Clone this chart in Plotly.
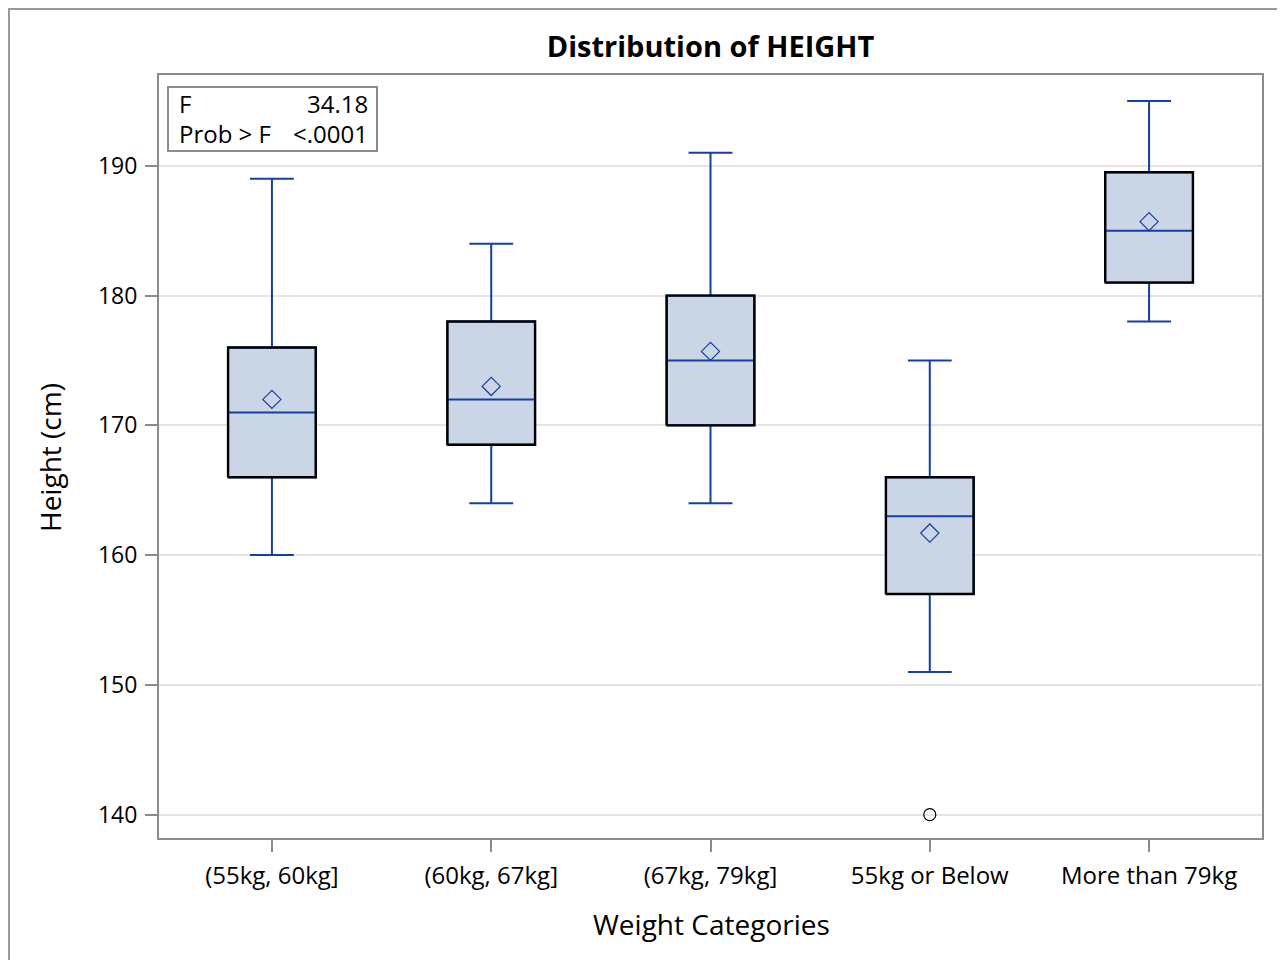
import plotly.graph_objects as go

categories = ["(55kg, 60kg]", "(60kg, 67kg]", "(67kg, 79kg]", "55kg or Below", "More than 79kg"]
lower_whisker = [160, 164, 164, 151, 178]
q1_values = [166, 168.5, 170, 157, 181]
median_values = [171, 172, 175, 163, 185]
q3_values = [176, 178, 180, 166, 189.5]
upper_whisker = [189, 184, 191, 175, 195]
mean_values = [172.0, 173.0, 175.7, 161.7, 185.7]
outlier_category = ["55kg or Below"]
outlier_y = [140]
y_ticks = [140, 150, 160, 170, 180, 190]

FONT = "Open Sans"
BLUE = "#163FA3"
FILL = "#CAD5E5"
GREY = "#8C8C8C"
BOX_W = 0.4

x_pos = list(range(len(categories)))
outlier_x = [categories.index(c) for c in outlier_category]

fig = go.Figure()

fig.add_trace(go.Box(
    x=x_pos, q1=q1_values, median=median_values, q3=q3_values,
    lowerfence=lower_whisker, upperfence=upper_whisker,
    width=BOX_W, whiskerwidth=0.5, fillcolor=FILL,
    line=dict(color=BLUE, width=2), boxpoints=False, showlegend=False,
    hoverinfo="skip",
))

# black outline of each box (Q1..Q3)
ox, oy = [], []
for xi, a, b in zip(x_pos, q1_values, q3_values):
    h = BOX_W / 2
    ox += [xi - h, xi + h, xi + h, xi - h, xi - h, None]
    oy += [a, a, b, b, a, None]
fig.add_trace(go.Scatter(x=ox, y=oy, mode="lines",
                         line=dict(color="black", width=2.4),
                         showlegend=False, hoverinfo="skip"))

fig.add_trace(go.Scatter(
    x=x_pos, y=mean_values, mode="markers",
    marker=dict(symbol="diamond-open", size=14, color=BLUE, line=dict(color=BLUE, width=1.2)),
    showlegend=False,
))

fig.add_trace(go.Scatter(
    x=outlier_x, y=outlier_y, mode="markers",
    marker=dict(symbol="circle-open", size=12, color="black", line=dict(color="black", width=1.2)),
    showlegend=False,
))

fig.update_layout(
    width=1285, height=960,
    margin=dict(l=151, r=31, t=67, b=130),
    paper_bgcolor="white", plot_bgcolor="white",
    font=dict(family=FONT, color="black", size=24),
    title=dict(text="<b>Distribution of HEIGHT</b>", x=0.5, xref="paper", xanchor="center",
               y=1 - 39 / 960, yanchor="middle", font=dict(size=29, family=FONT)),
    xaxis=dict(
        range=[-0.515, 4.515], tickvals=x_pos, ticktext=categories,
        showline=True, mirror=True, linecolor=GREY, linewidth=2,
        ticks="outside", ticklen=12, tickwidth=2, tickcolor=GREY,
        showgrid=False, zeroline=False, tickfont=dict(size=24),
        ticklabelstandoff=3,
    ),
    yaxis=dict(
        range=[138.2, 197.0], tickvals=y_ticks,
        showline=True, mirror=True, linecolor=GREY, linewidth=2,
        ticks="outside", ticklen=12, tickwidth=2, tickcolor=GREY,
        showgrid=True, gridcolor="#E4E4E4", gridwidth=1.5, zeroline=False,
        tickfont=dict(size=23), ticklabelstandoff=3,
    ),
)

def px(x):
    return (x - 159) / 1103

def py(y):
    return (838 - y) / 763

# outer frame
fig.add_shape(type="rect", xref="paper", yref="paper",
              x0=px(9), x1=px(1300), y0=py(975), y1=py(9),
              line=dict(color="#9A9A9A", width=2), layer="below")
# inset table border
fig.add_shape(type="rect", xref="paper", yref="paper",
              x0=px(168), x1=px(377), y0=py(151), y1=py(87),
              line=dict(color=GREY, width=2), fillcolor="white")

for text, x, anchor, y in [
    ("F", 177, "left", 103),
    ("34.18", 370, "right", 103),
    ("Prob &gt; F", 177, "left", 134),
    ("&lt;.0001", 370, "right", 134),
]:
    fig.add_annotation(text=text, xref="paper", yref="paper", x=px(x), y=py(y),
                       xanchor=anchor, yanchor="middle", showarrow=False,
                       font=dict(size=24, family=FONT, color="black"))

# axis titles
fig.add_annotation(text="Weight Categories", xref="paper", yref="paper",
                   x=px(711), y=py(924), xanchor="center", yanchor="middle",
                   showarrow=False, font=dict(size=28, family=FONT, color="black"))
fig.add_annotation(text="Height (cm)", xref="paper", yref="paper", textangle=-90,
                   x=px(50), y=py(458), xanchor="center", yanchor="middle",
                   showarrow=False, font=dict(size=28, family=FONT, color="black"))

fig.write_html("out.html")
